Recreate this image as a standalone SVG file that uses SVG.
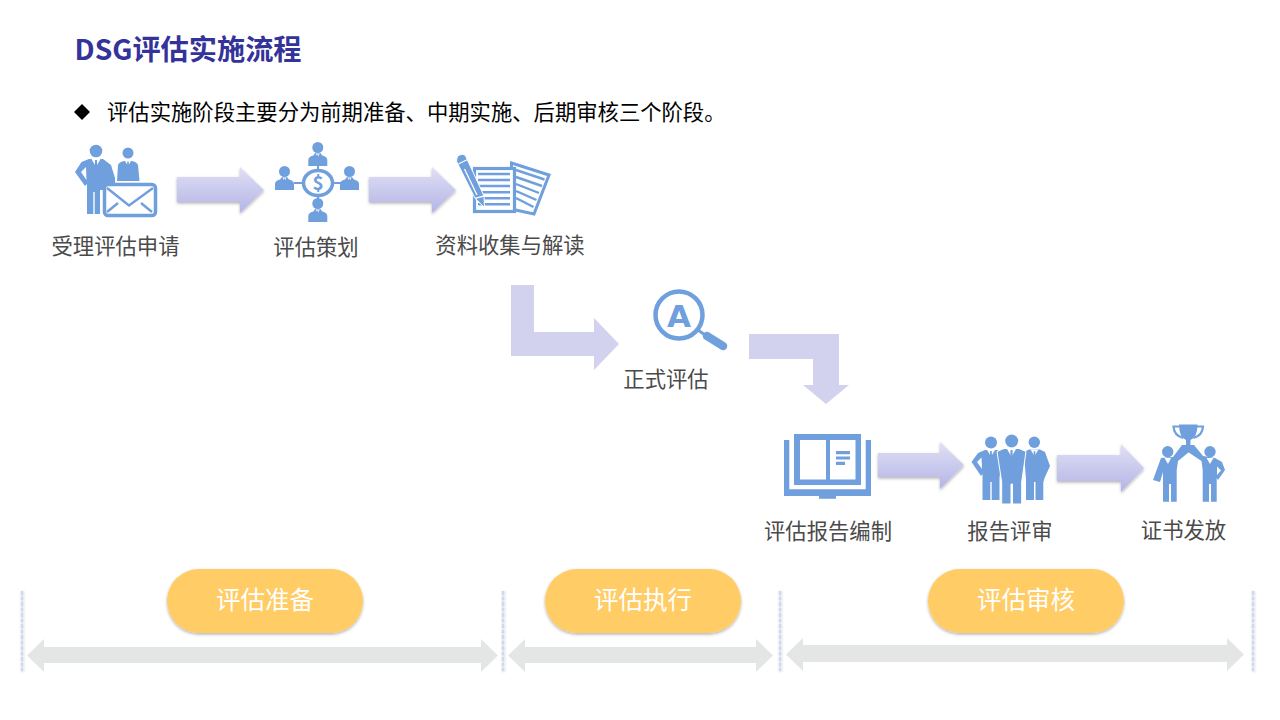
<svg xmlns="http://www.w3.org/2000/svg" xmlns:xlink="http://www.w3.org/1999/xlink" width="1280" height="720" viewBox="0 0 1280 720">
<style>
text{font-family:"Noto Sans CJK SC","Noto Sans",sans-serif}
.title{font-size:28.2px;font-weight:700;fill:#333399}
.body{font-size:21.33px;fill:#000}
.label{font-size:21.33px;fill:#4a4a4a;text-anchor:middle}
.pilltext{font-size:24.5px;fill:#fff;text-anchor:middle}
.pill{fill:#FFCC66;filter:url(#softShadow)}
.icon{fill:#6F9FDC}
.hole{fill:#fff}
.line{fill:none;stroke:#6F9FDC}
.flow{fill:url(#flowGrad);filter:url(#softShadow)}
.bend{fill:#D2D2EF}
.span{fill:#E4E6E5}
.sep{stroke:#CBDAF2;stroke-width:2.5;stroke-dasharray:4 1.5;filter:url(#sepShadow)}
</style>
<defs>
<linearGradient id="flowGrad" x1="0" y1="0" x2="0" y2="1"><stop offset="0" stop-color="#E0E0F5"/><stop offset="1" stop-color="#B4B4E6"/></linearGradient>
<filter id="softShadow" x="-10%" y="-20%" width="120%" height="140%"><feDropShadow dx="0" dy="1.5" stdDeviation="1.5" flood-color="#000" flood-opacity="0.3"/></filter>
<filter id="sepShadow" x="-2%" y="-5%" width="104%" height="110%"><feDropShadow dx="0.5" dy="0.5" stdDeviation="1" flood-color="#000" flood-opacity="0.22"/></filter>
<g id="bust">
<path class="icon" d="M0 13V7Q0 3.500 5 2.500L7 0H12L14 2.500Q19 3.500 19 7V13Z"/>
<path class="hole" d="M7.500 0.500L9.500 4.500L11.500 0.500Z"/>
<path class="icon" d="M9 1.500H10L10.500 6L9.500 8L8.500 6Z"/>
</g>
</defs>
<rect width="1280" height="720" fill="#fff"/>
<g id="heading">
<text class="title" x="74.500" y="60">DSG评估实施流程</text>
<path d="M82 104L90 112L82 120L74 112Z" fill="#000"/>
<text class="body" x="107" y="120">评估实施阶段主要分为前期准备、中期实施、后期审核三个阶段。</text>
</g>
<g id="connectors">
<path class="flow" d="M177 177H240V167L264 190L240 213V202H177Z"/>
<path class="flow" d="M369 177H432V167L456 190L432 213V202H369Z"/>
<path class="bend" d="M511 285H534V332H594V318L619 344L594 370V356H511Z"/>
<path class="bend" d="M749 334H839V385H849L826 404L803 385H813V359H749Z"/>
<path class="flow" d="M878 453H940V442L964 465L940 489V477H878Z"/>
<path class="flow" d="M1057 455H1121V444L1144 468L1121 492V481H1057Z"/>
</g>
<g id="node-apply">
<circle class="icon" cx="96" cy="151" r="6.300"/>
<path class="icon" d="M89 159L81.500 162L75 172L85 186L87 184V214H93.300V192H94.700V214H100V190H115V178L111 165L103 159Z"/>
<path class="hole" d="M81 172L86 167L86.500 180Z"/>
<path class="hole" d="M91.500 159L96 167L100.500 159Z"/>
<path class="icon" d="M95 160H97L97.600 173L96 176L94.400 173Z"/>
<circle class="icon" cx="128" cy="153" r="5.500"/>
<path class="icon" d="M117 181L118 165Q119 162 124 161H132Q137 162 138 165L139.500 181Z"/>
<path class="hole" d="M125 161L128 166L131 161Z"/>
<path class="icon" d="M127.300 161.500H128.700L129.300 170L128 172.500L126.700 170Z"/>
<rect x="104.500" y="184.500" width="51" height="31" rx="3.500" fill="#fff" stroke="#6F9FDC" stroke-width="3.500"/>
<path class="line" stroke-width="2.400" d="M107 188L129 205.500L153 188M107 212L118 203M152 212L141 203"/>
<text class="label" x="115.500" y="254">受理评估申请</text>
</g>
<g id="node-plan">
<use xlink:href="#bust" href="#bust" x="308.300" y="153"/>
<circle class="icon" cx="317.800" cy="147.500" r="5.500"/>
<use xlink:href="#bust" href="#bust" x="308.300" y="209"/>
<circle class="icon" cx="317.800" cy="203.500" r="5.500"/>
<use xlink:href="#bust" href="#bust" x="275" y="177"/>
<circle class="icon" cx="284.500" cy="171.500" r="5.500"/>
<use xlink:href="#bust" href="#bust" x="340" y="177"/>
<circle class="icon" cx="349.500" cy="171.500" r="5.500"/>
<path class="line" stroke-width="2" d="M294 183H302M334 183H341M318 166V169M318 197V200"/>
<ellipse cx="318" cy="183" rx="14.500" ry="12.500" fill="#fff" stroke="#6F9FDC" stroke-width="3.500"/>
<text x="318" y="190" font-size="19" font-weight="700" fill="#6F9FDC" text-anchor="middle">$</text>
<text class="label" x="316" y="255">评估策划</text>
</g>
<g id="node-collect">
<path class="hole" stroke="#6F9FDC" stroke-width="3" d="M511.500 163L549 175L534 214L511 209Z"/>
<path class="line" stroke-width="2.400" d="M516 170L544.500 179.500M516 177L542 186M516 184L539 193M516 191L536.500 200M516 198L533.500 207"/>
<rect x="474.500" y="168.500" width="40" height="43" class="hole" stroke="#6F9FDC" stroke-width="3.200"/>
<path class="line" stroke-width="2.400" d="M478 174H510M478 180H510M478 186H510M478 192.300H510M478 198.300H510M478 204.300H510"/>
<path class="icon" d="M456.700 161.700Q456 155.500 461 154.500Q465 153.500 466.700 158.300L484 196L484.500 207.500L475 198.300Z" stroke="#fff" stroke-width="1"/>
<path fill="none" stroke="#fff" stroke-width="1.300" d="M458.500 164L467.500 159.500M464.500 169L477 195M475 198.300L484 196"/>
<text class="label" x="510" y="253">资料收集与解读</text>
</g>
<g id="node-audit">
<circle cx="679" cy="315" r="23.500" fill="#fff" stroke="#6F9FDC" stroke-width="4.500"/>
<text x="679" y="327" font-size="31" font-weight="700" fill="#6F9FDC" text-anchor="middle" style="font-family:'DejaVu Sans',sans-serif">A</text>
<path class="line" stroke-width="3" d="M698 330L705 335"/>
<path class="line" stroke-width="8.500" stroke-linecap="round" d="M707 336L723 346"/>
<text class="label" x="666" y="387">正式评估</text>
</g>
<g id="node-report">
<rect class="icon" x="794" y="434" width="67" height="51"/>
<rect class="hole" x="800" y="440" width="26" height="39.500"/>
<rect class="hole" x="830" y="440" width="25.500" height="39.500"/>
<path class="icon" d="M784 440H789.300V489.300H865.700V440H871V496H836V498.700H819V496H784Z"/>
<path class="icon" d="M836 451H850V454.300H836ZM836 456.500H850V459.500H836ZM836 461.700H845V465H836Z"/>
<text class="label" x="828" y="539">评估报告编制</text>
</g>
<g id="node-review">
<circle class="icon" cx="991" cy="442.500" r="6"/>
<path class="icon" d="M985 450L978 453L971.500 462L981 476L982.500 474V500H990.300V482H991.700V500H999.500V478L1002 452L997 450Z"/>
<path class="hole" d="M977 462L981.500 457.500L982 469Z"/>
<path class="hole" d="M987 450L991 456.500L995 450Z"/>
<path class="icon" d="M990.200 451H991.800L992.400 464L991 467L989.600 464Z"/>
<circle class="icon" cx="1034.300" cy="442.300" r="5.700"/>
<path class="icon" d="M1029 449.500L1024 452L1026 480V500H1034V482H1035.500V500H1043.300V482L1045 477L1050 466L1045 452L1040 449.500Z"/>
<path class="hole" d="M1030.500 449.500L1034.500 456L1038.500 449.500Z"/>
<path class="icon" d="M1033.800 451H1035.200L1035.800 463L1034.500 466L1033.200 463Z"/>
<circle class="icon" cx="1011.700" cy="441" r="6.500"/>
<path class="icon" d="M1004 448.500L997 451.500L1001.700 482V504H1011V484H1012.500V504H1021.700V482L1026 451.500L1019 448.500Z" stroke="#fff" stroke-width="1"/>
<path class="hole" d="M1007 449L1011.500 457L1016 449Z"/>
<path class="icon" d="M1010.500 450H1012.500L1013 465L1011.500 468L1010 465Z"/>
<text class="label" x="1010" y="539">报告评审</text>
</g>
<g id="node-cert">
<path class="line" stroke-width="2.200" d="M1180 426.500H1173.500Q1174 435.500 1183 438M1196.500 426.500H1203Q1202.500 435.500 1193.500 438"/>
<path class="icon" d="M1179 424.500H1197.500Q1197.500 437 1190.500 440V445H1186V440Q1179 437 1179 424.500Z"/>
<circle class="icon" cx="1167.700" cy="451.700" r="5.700"/>
<path class="icon" d="M1161 458L1153 480L1160 482L1163 472V501.700H1169V484H1171V501.700H1176.700V470L1178 461L1189 452L1193 445H1182L1173 457Z"/>
<path class="hole" d="M1164.500 458L1168 464L1171 458Z"/>
<circle class="icon" cx="1210" cy="451.700" r="5.700"/>
<path class="icon" d="M1215 458L1222 462L1225 470L1218 480L1216.700 478V501.700H1211V484H1209V501.700H1202.700V470L1201.500 461L1188 452L1184 445H1194L1203 456Z"/>
<path class="hole" d="M1206.500 458L1210 464L1213.500 458Z"/>
<path class="hole" d="M1217 466.500L1221 470.500L1217 475Z"/>
<text class="label" x="1183.500" y="538">证书发放</text>
</g>
<g id="phase-prepare">
<rect class="pill" x="167" y="569" width="196" height="64" rx="32"/>
<text class="pilltext" x="265" y="609">评估准备</text>
</g>
<g id="phase-execute">
<rect class="pill" x="545" y="569" width="196" height="64" rx="32"/>
<text class="pilltext" x="643" y="609">评估执行</text>
</g>
<g id="phase-review">
<rect class="pill" x="928" y="569" width="196" height="64" rx="32"/>
<text class="pilltext" x="1026" y="609">评估审核</text>
</g>
<g id="spans">
<path class="span" d="M27 655.500L44 639V647H481V639L498 655.500L481 672V663H44V672Z"/>
<path class="span" d="M508 655.500L525 639V647H756V639L773 655.500L756 672V663H525V672Z"/>
<path class="span" d="M786 654.500L803 638V645H1227V638L1244 654.500L1227 671V662H803V671Z"/>
<path class="sep" d="M22 591V671M503 591V671M780 591V671M1253 591V671"/>
</g>
</svg>
